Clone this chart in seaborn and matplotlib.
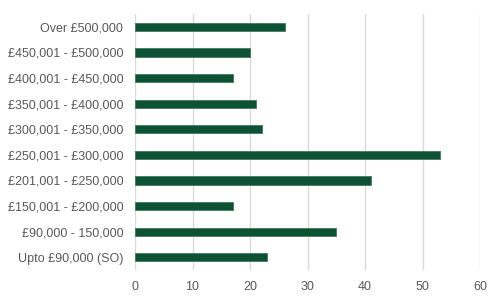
import matplotlib
matplotlib.use("Agg")
import matplotlib.pyplot as plt
import seaborn as sns
import pandas as pd

categories = ["Over £500,000", "£450,001 - £500,000", "£400,001 - £450,000",
              "£350,001 - £400,000", "£300,001 - £350,000", "£250,001 - £300,000",
              "£201,001 - £250,000", "£150,001 - £200,000", "£90,000 - 150,000",
              "Upto £90,000 (SO)"]
values = [26, 20, 17, 21, 22, 53, 41, 17, 35, 23]
xticks = [0, 10, 20, 30, 40, 50, 60]

df = pd.DataFrame({"cat": categories, "val": values})

sns.set_style("white")
plt.rcParams['font.family'] = ['Liberation Sans', 'DejaVu Sans']

fig = plt.figure(figsize=(5, 3), dpi=100)
ax = fig.add_axes([0.27, 0.1, 0.69, 0.853])
sns.barplot(data=df, x="val", y="cat", orient="h", color="#0d5234",
            saturation=1, width=0.32, edgecolor="#3f7a5c", linewidth=0.6, ax=ax)
ax.set_xlim(0, 60)
ax.set_ylim(9.5, -0.5)
ax.set_xticks(xticks)
ax.set_xlabel("")
ax.set_ylabel("")
ax.grid(axis="x", color="#d9d9d9", linewidth=1)
ax.set_axisbelow(True)
for s in ax.spines.values():
    s.set_visible(False)
ax.tick_params(axis="both", length=0, labelsize=9, labelcolor="#595959")
ax.tick_params(axis="y", pad=8.5)
ax.tick_params(axis="x", pad=8)
fig.savefig("out.png", dpi=100)
